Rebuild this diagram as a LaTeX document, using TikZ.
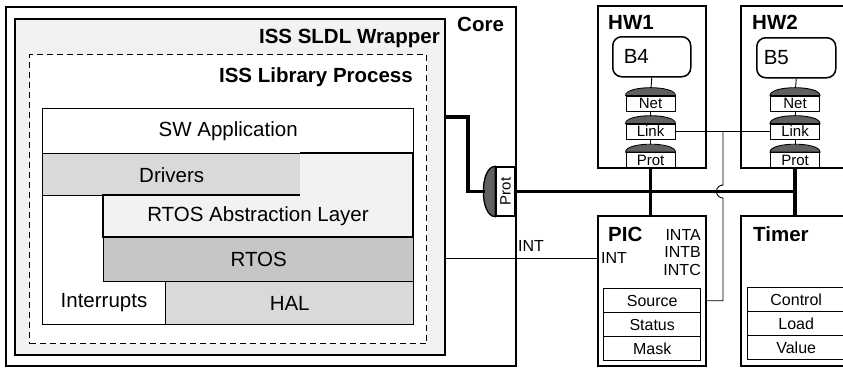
\documentclass[tikz,border=0pt]{standalone}
\usepackage{fontspec}
\setmainfont{Liberation Sans}
\definecolor{lightfill}{HTML}{F2F2F2}
\definecolor{midfill}{HTML}{D9D9D9}
\definecolor{darkfill}{HTML}{C6C6C6}
\definecolor{domefill}{HTML}{606060}
\tikzset{
  box/.style={draw, line width=1.7pt, anchor=north west, inner sep=0pt},
  layer/.style={draw, line width=1.4pt, anchor=north west, inner sep=0pt,
    font=\fontsize{20.5}{24}\selectfont},
  title/.style={inner sep=0pt, font=\fontsize{20.5}{24}\selectfont\bfseries},
  lbl/.style={inner sep=0pt, font=\fontsize{20.5}{24}\selectfont},
  small/.style={inner sep=0pt, font=\fontsize{16}{18}\selectfont},
  reg/.style={draw, line width=1.4pt, anchor=north west, inner sep=0pt,
    minimum width=97pt, minimum height=24pt, font=\fontsize{16}{18}\selectfont},
  proto/.style={draw, line width=0.9pt, fill=white, inner sep=0pt,
    minimum width=49pt, minimum height=15pt, font=\fontsize{15}{15}\selectfont},
  bus/.style={line width=3.8pt},
  wire/.style={line width=0.9pt},
}
% dark cap on top of a protocol layer
\newcommand\protcap[1]{%
  \filldraw[fill=domefill, line width=0.9pt] (#1.north west)
    .. controls +(0,-10.5) and +(0,-10.5) .. (#1.north east) -- cycle;}
\begin{document}
\begin{tikzpicture}[x=1pt, y=-1pt]
    \useasboundingbox (0,0) rectangle (843,368);
    \clip (0,0) rectangle (843,368);
    % Core with ISS wrapper
    \node[box, fill=white, minimum width=510pt, minimum height=359pt] (core) at (5,6) {};
    \node[title, anchor=base west] (corelbl) at (457,31) {Core};
    \node[box, line width=1.5pt, fill=lightfill, minimum width=430pt, minimum height=336pt] (wrapper) at (14,18) {};
    \node[title, anchor=base east] (wrapperlbl) at (440,43) {ISS SLDL Wrapper};
    \node[box, line width=1.4pt, dash pattern=on 6pt off 4pt, fill=white, minimum width=397pt, minimum height=289pt] (libproc) at (29,54) {};
    \node[title, anchor=base east] (libproclbl) at (413,82) {ISS Library Process};
    % Software stack
    \node[layer, fill=white, minimum width=371pt, minimum height=216pt] (stack) at (42,108) {};
    \node[layer, fill=white, minimum width=371pt, minimum height=45pt] (swapp) at (42,108) {SW Application};
    \node[layer, fill=midfill, minimum width=258pt, minimum height=42pt] (drivers) at (42,153) {Drivers};
    \filldraw[fill=lightfill, line width=1.4pt] (300,153) -- (413,153) -- (413,237)
        -- (103,237) -- (103,195) -- (300,195);
    \node[lbl] (ral) at (258,216) {RTOS Abstraction Layer};
    \node[layer, fill=darkfill, minimum width=310pt, minimum height=44pt] (rtos) at (103,237) {RTOS};
    \node[layer, fill=midfill, minimum width=248pt, minimum height=43pt] (hal) at (165,281) {HAL};
    \node[lbl] (irq) at (104,303) {Interrupts};
    % Core bus interface
    \node[proto, line width=1.3pt, rotate=90, minimum width=49pt, minimum height=19pt] (coreprot) at (505.5,191.5) {Prot};
    \filldraw[fill=domefill, line width=1.3pt] (coreprot.north west)
        .. controls +(-16,0) and +(-16,0) .. (coreprot.north east) -- cycle;
    \coordinate (wrapout) at (444,117);
    \coordinate (protin) at (485,191.5);
    % HW1
    \node[box, minimum width=108pt, minimum height=162pt] (hw1) at (597,5) {};
    \node[title, anchor=base west] (hw1lbl) at (608,29) {HW1};
    \node[box, line width=1.5pt, rounded corners=9pt, minimum width=78pt, minimum height=40pt,
        text width=56pt, inner xsep=11pt, align=left, lbl] (b4) at (612,36) {B4};
    \node[proto] (net1) at (650.5,103.5) {Net};
    \node[proto] (link1) at (650.5,131.5) {Link};
    \node[proto] (prot1) at (650.5,160) {Prot};
    % HW2
    \node[box, minimum width=110pt, minimum height=162pt] (hw2) at (740,5) {};
    \node[title, anchor=base west] (hw2lbl) at (752,29) {HW2};
    \node[box, line width=1.5pt, rounded corners=9pt, minimum width=79pt, minimum height=40pt,
        text width=65pt, inner xsep=7pt, align=left, lbl] (b5) at (756,37) {B5};
    \node[proto] (net2) at (795,103.5) {Net};
    \node[proto] (link2) at (795,131.5) {Link};
    \node[proto] (prot2) at (795,160) {Prot};
    % PIC
    \node[box, minimum width=108pt, minimum height=150pt] (pic) at (597,215) {};
    \node[title, anchor=base west] (piclbl) at (608,241) {PIC};
    \node[small, anchor=base west] (picint) at (601,263) {INT};
    \node[small, anchor=base east] (inta) at (701,240) {INTA};
    \node[small, anchor=base east] (intb) at (701,257.5) {INTB};
    \node[small, anchor=base east] (intc) at (701,275) {INTC};
    \node[reg] (source) at (603,288) {Source};
    \node[reg] (status) at (603,312) {Status};
    \node[reg] (mask) at (603,336) {Mask};
    % Timer
    \node[box, minimum width=110pt, minimum height=150pt] (timer) at (740,215) {};
    \node[title, anchor=base west] (timerlbl) at (753,241) {Timer};
    \node[reg] (control) at (747,287) {Control};
    \node[reg] (load) at (747,311) {Load};
    \node[reg] (value) at (747,335) {Value};
    % Connections inside HW blocks
    \draw[wire] (b4.south) -- (net1.north);
    \draw[wire] (net1.south) -- (link1.north);
    \draw[wire] (link1.south) -- (prot1.north);
    \draw[wire] (b5.south) -- (net2.north);
    \draw[wire] (net2.south) -- (link2.north);
    \draw[wire] (link2.south) -- (prot2.north);
    \protcap{net1} \protcap{link1} \protcap{prot1}
    \protcap{net2} \protcap{link2} \protcap{prot2}
    % Bus
    \draw[bus] (wrapout) -- ++(24,0) |- (protin);
    \draw[bus] (coreprot.south) -- (prot2.south |- coreprot.south);
    \draw[bus] (prot1.south) -- (prot1.south |- pic.north);
    \draw[bus] (prot2.south) -- (prot2.south |- timer.north);
    % Link and interrupt wires
    \draw[wire] (link1.east) -- (link2.west);
    \path (link1.east) ++(47.5,0) coordinate (tap);
    \draw[wire] (tap) -- ([yshift=6.5pt]tap |- coreprot.south)
        arc[start angle=270, end angle=90, radius=6.5] -- (tap |- source.east) -- (source.east -| pic.east);
    \coordinate (intsrc) at (444,258);
    \draw[wire] (intsrc) -- (intsrc -| pic.west);
    \node[small, anchor=base west] (intlbl) at (518,251) {INT};
\end{tikzpicture}
\end{document}
